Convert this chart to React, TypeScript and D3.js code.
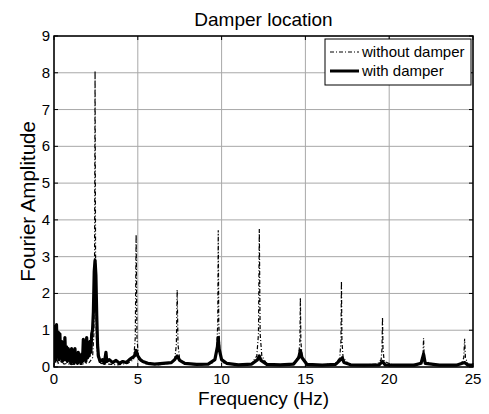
import React from "react";
import * as d3 from "d3";

const title = "Damper location";
const xLabel = "Frequency (Hz)";
const yLabel = "Fourier Amplitude";
const xTicks = [0, 5, 10, 15, 20, 25];
const yTicks = [0, 1, 2, 3, 4, 5, 6, 7, 8, 9];
const legendLabels = ["without damper", "with damper"];

// without damper: [frequency Hz, amplitude]
const withoutDamper: [number, number][] = [
  [0, 0.05], [0.05, 0.35], [0.1, 0.12], [0.15, 0.25], [0.25, 0.1], [0.4, 0.15], [0.6, 0.08], [0.8, 0.1],
  [1.0, 0.06], [1.3, 0.1], [1.6, 0.07], [1.9, 0.1], [2.1, 0.12], [2.3, 0.25], [2.38, 0.9], [2.42, 3.0],
  [2.45, 8.05], [2.48, 3.0], [2.52, 0.9], [2.6, 0.25], [2.8, 0.1], [3.2, 0.08], [3.8, 0.06], [4.4, 0.1],
  [4.75, 0.2], [4.85, 0.8], [4.9, 3.6], [4.95, 0.8], [5.05, 0.2], [5.5, 0.08], [6.2, 0.06], [6.9, 0.1],
  [7.2, 0.2], [7.3, 0.6], [7.35, 2.1], [7.4, 0.6], [7.5, 0.2], [8, 0.07], [8.8, 0.06], [9.5, 0.12],
  [9.7, 0.35], [9.77, 1.2], [9.8, 3.72], [9.83, 1.2], [9.9, 0.35], [10.1, 0.12], [11, 0.06], [11.8, 0.1],
  [12.1, 0.3], [12.2, 0.9], [12.25, 3.75], [12.3, 0.9], [12.4, 0.3], [12.7, 0.08], [13.5, 0.06], [14.3, 0.1],
  [14.6, 0.3], [14.67, 0.7], [14.7, 1.88], [14.73, 0.7], [14.8, 0.3], [15.1, 0.08], [16, 0.06], [16.8, 0.1],
  [17.05, 0.25], [17.12, 0.7], [17.15, 2.33], [17.18, 0.7], [17.25, 0.25], [17.6, 0.07], [18.5, 0.06],
  [19.3, 0.08], [19.52, 0.2], [19.57, 0.5], [19.6, 1.35], [19.63, 0.5], [19.7, 0.15], [20.2, 0.06],
  [21, 0.05], [21.8, 0.08], [21.97, 0.2], [22.02, 0.4], [22.05, 0.78], [22.08, 0.4], [22.15, 0.15],
  [22.8, 0.05], [23.7, 0.05], [24.3, 0.08], [24.45, 0.25], [24.5, 0.77], [24.55, 0.25], [24.7, 0.08], [25, 0.05],
];

// with damper, low-frequency band sampled every 0.05 Hz from 0 Hz
const withDamperLowStart = 0;
const withDamperLowStep = 0.05;
const withDamperLow: number[] = [
  0.3, 1.1, 0.2, 1.15, 0.3, 0.95, 0.2, 0.9, 0.25, 0.7, 0.15, 0.55, 0.2, 0.8, 0.2, 0.55,
  0.15, 0.5, 0.2, 0.45, 0.1, 0.5, 0.15, 0.45, 0.1, 0.5, 0.15, 0.35, 0.1, 0.4, 0.15, 0.3,
  0.1, 0.35, 0.15, 0.75, 0.2, 0.6, 0.15, 0.8, 0.25, 0.65, 0.3, 0.7, 0.4, 0.9,
];

// with damper, rest of spectrum: [frequency Hz, amplitude]
const withDamperRest: [number, number][] = [
  [2.3, 1.0], [2.35, 1.5], [2.4, 2.6], [2.45, 2.9], [2.5, 2.5], [2.55, 1.4], [2.6, 0.6], [2.65, 0.3],
  [2.75, 0.15], [2.9, 0.2], [3.0, 0.1], [3.1, 0.4], [3.15, 0.15], [3.3, 0.2], [3.5, 0.12], [3.7, 0.18],
  [3.9, 0.1], [4.1, 0.15], [4.3, 0.12], [4.5, 0.2], [4.65, 0.25], [4.8, 0.3], [4.9, 0.45], [5.0, 0.3],
  [5.15, 0.2], [5.3, 0.15], [5.6, 0.1], [6.0, 0.08], [6.5, 0.1], [7.0, 0.12], [7.2, 0.2], [7.35, 0.3],
  [7.5, 0.18], [7.8, 0.1], [8.5, 0.07], [9.2, 0.08], [9.6, 0.2], [9.75, 0.55], [9.8, 0.8], [9.85, 0.5],
  [10.0, 0.2], [10.3, 0.1], [11, 0.06], [11.8, 0.08], [12.15, 0.2], [12.25, 0.3], [12.35, 0.18],
  [12.7, 0.07], [13.5, 0.06], [14.3, 0.08], [14.6, 0.25], [14.7, 0.45], [14.8, 0.25], [15.1, 0.07],
  [16, 0.05], [16.8, 0.07], [17.1, 0.2], [17.2, 0.25], [17.3, 0.12], [17.7, 0.06], [18.5, 0.05],
  [19.4, 0.06], [19.6, 0.15], [19.75, 0.06], [20.5, 0.05], [21.5, 0.05], [21.9, 0.1], [22.05, 0.35],
  [22.15, 0.1], [23, 0.05], [24, 0.05], [24.5, 0.12], [24.7, 0.05], [25, 0.05],
];

const W = 489;
const H = 414;
const L = 54, R = 473, T = 36, B = 367;
const FONT = "'Liberation Sans', Arial, sans-serif";

export default function App() {
  const x = d3.scaleLinear().domain([0, 25]).range([L, R]);
  const y = d3.scaleLinear().domain([0, 9]).range([B, T]);
  const line = d3.line<[number, number]>().x((d) => x(d[0])).y((d) => y(d[1]));

  const withDamper: [number, number][] = [
    ...withDamperLow.map((a, i) => [withDamperLowStart + i * withDamperLowStep, a] as [number, number]),
    ...withDamperRest,
  ];

  const tickLen = 4;
  return (
    <svg width={W} height={H} style={{ position: "absolute", left: 0, top: 0, background: "#fff" }}>
      <rect x={0} y={0} width={W} height={H} fill="#fff" />
      {xTicks.map((t) => (
        <line key={"gx" + t} x1={x(t)} x2={x(t)} y1={T} y2={B} stroke="#a8a8a8" strokeWidth={1} />
      ))}
      {yTicks.map((t) => (
        <line key={"gy" + t} x1={L} x2={R} y1={y(t)} y2={y(t)} stroke="#a8a8a8" strokeWidth={1} />
      ))}
      <defs>
        <clipPath id="plotclip">
          <rect x={L} y={T} width={R - L} height={B - T} />
        </clipPath>
      </defs>
      <g clipPath="url(#plotclip)">
        <path d={line(withDamper) || ""} fill="none" stroke="#000" strokeWidth={3.2} strokeLinejoin="round" />
        <path d={line(withoutDamper) || ""} fill="none" stroke="#000" strokeWidth={1.2} strokeDasharray="4,2,1,2" />
      </g>
      {xTicks.map((t) => (
        <g key={"tx" + t}>
          <line x1={x(t)} x2={x(t)} y1={B} y2={B - tickLen} stroke="#000" />
          <line x1={x(t)} x2={x(t)} y1={T} y2={T + tickLen} stroke="#000" />
          <text x={x(t)} y={384} textAnchor="middle" fontFamily={FONT} fontSize={15}>{t}</text>
        </g>
      ))}
      {yTicks.map((t) => (
        <g key={"ty" + t}>
          <line x1={L} x2={L + tickLen} y1={y(t)} y2={y(t)} stroke="#000" />
          <line x1={R} x2={R - tickLen} y1={y(t)} y2={y(t)} stroke="#000" />
          <text x={L - 4} y={y(t) + 5} textAnchor="end" fontFamily={FONT} fontSize={15}>{t}</text>
        </g>
      ))}
      <rect x={L} y={T} width={R - L} height={B - T} fill="none" stroke="#000" strokeWidth={1.5} />
      <g>
        <rect x={325} y={39} width={146} height={46} fill="#fff" stroke="#000" strokeWidth={1} />
        <line x1={330} x2={359} y1={52} y2={52} stroke="#000" strokeWidth={1} strokeDasharray="4,2,1,2" />
        <text x={362} y={57} fontFamily={FONT} fontSize={15}>{legendLabels[0]}</text>
        <line x1={330} x2={359} y1={71} y2={71} stroke="#000" strokeWidth={3} />
        <text x={362} y={76} fontFamily={FONT} fontSize={15}>{legendLabels[1]}</text>
      </g>
      <text x={(L + R) / 2} y={26} textAnchor="middle" fontFamily={FONT} fontSize={19}>{title}</text>
      <text x={(L + R) / 2} y={405} textAnchor="middle" fontFamily={FONT} fontSize={19}>{xLabel}</text>
      <text transform={`translate(35,${(T + B) / 2}) rotate(-90)`} textAnchor="middle" fontFamily={FONT} fontSize={20.5}>{yLabel}</text>
    </svg>
  );
}
